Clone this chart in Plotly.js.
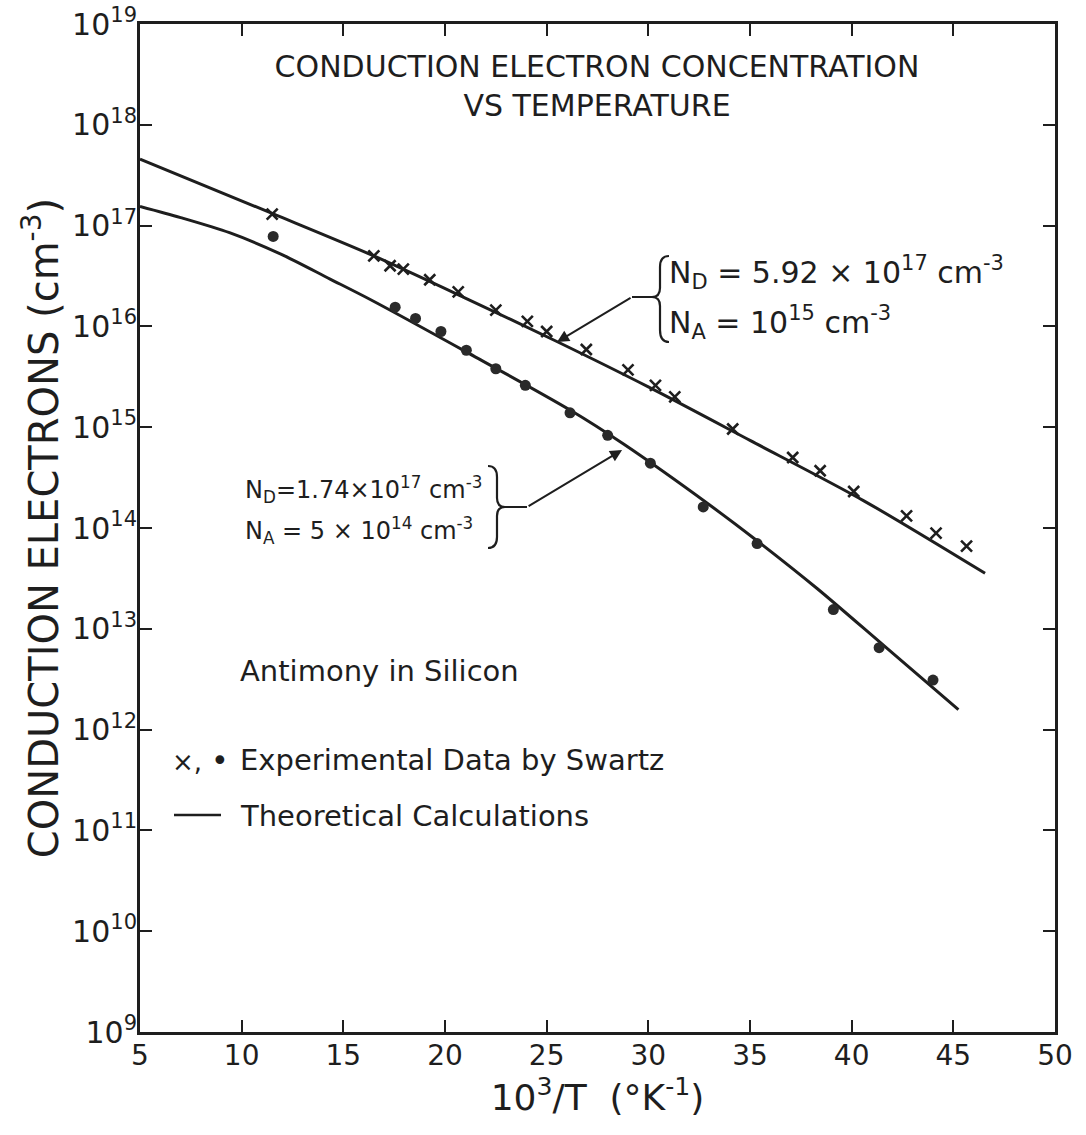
<!DOCTYPE html>
<html>
<head>
<meta charset="utf-8">
<script src="https://cdn.plot.ly/plotly-3.0.1.min.js"></script>
<style>html,body{margin:0;padding:0;background:#fff;}</style>
</head>
<body>
<div id="chart" style="width:1086px;height:1135px;"></div>
<script>
// ---- data ----
// Theoretical curve, N_D = 5.92e17, N_A = 1e15
const theoryUpperX = [5, 11.5, 16.5, 21, 25.5, 30, 35, 40.6, 46.56];
const theoryUpperN = [4.57e17, 1.32e17, 5.0e16, 1.91e16, 7.08e15, 2.51e15, 7.4e14, 1.86e14, 3.55e13];
// Theoretical curve, N_D = 1.74e17, N_A = 5e14
const theoryLowerX = [5, 7, 9.4, 11.9, 14.35, 16.3, 21.2, 26.15, 28.8, 33.0, 35.3, 38.3, 41.6, 45.25];
const theoryLowerN = [1.55e17, 1.20e17, 8.5e16, 5.25e16, 2.95e16, 1.86e16, 5.37e15, 1.48e15, 6.76e14, 1.70e14, 7.6e13, 2.51e13, 6.76e12, 1.58e12];
// Experimental data (crosses)
const crossX = [11.5, 16.5, 17.3, 17.95, 19.25, 20.65, 22.5, 24.05, 25.0, 26.95, 29.0, 30.35, 31.3, 34.15, 37.1, 38.45, 40.1, 42.7, 44.15, 45.65];
const crossN = [1.3e17, 5.0e16, 4.0e16, 3.7e16, 2.9e16, 2.2e16, 1.45e16, 1.12e16, 8.9e15, 5.9e15, 3.7e15, 2.6e15, 2.0e15, 9.6e14, 5.0e14, 3.7e14, 2.3e14, 1.32e14, 8.9e13, 6.6e13];
// Experimental data (dots)
const dotX = [11.55, 17.55, 18.55, 19.8, 21.05, 22.5, 23.95, 26.15, 28.0, 30.1, 32.7, 35.35, 39.1, 41.35, 44.0];
const dotN = [7.8e16, 1.55e16, 1.2e16, 8.9e15, 5.8e15, 3.8e15, 2.6e15, 1.39e15, 8.3e14, 4.4e14, 1.62e14, 7.0e13, 1.55e13, 6.5e12, 3.1e12];
// Axis ticks
const xTicks = [5, 10, 15, 20, 25, 30, 35, 40, 45, 50];
const yTickExps = [9, 10, 11, 12, 13, 14, 15, 16, 17, 18, 19];

// ---- layout helpers ----
const INK = '#1e1e1e';
const FONT = 'DejaVu Sans, Liberation Sans, sans-serif';
const W = 1086, H = 1135;
const M = {l: 140, r: 31, t: 24, b: 103};
const PW = W - M.l - M.r, PH = H - M.t - M.b;
function px(x) { return (x - M.l) / PW; }
function py(y) { return (H - M.b - y) / PH; }
function pathFromPixels(cmds) {
  return cmds.map(c => {
    if (c.length === 3) return c[0] + ' ' + px(c[1]).toFixed(5) + ',' + py(c[2]).toFixed(5);
    return c[0] + ' ' + px(c[1]).toFixed(5) + ',' + py(c[2]).toFixed(5) + ' ' + px(c[3]).toFixed(5) + ',' + py(c[4]).toFixed(5);
  }).join(' ');
}

const traces = [
  {x: theoryUpperX, y: theoryUpperN, mode: 'lines', line: {color: INK, width: 3, shape: 'spline', smoothing: 0.8}, showlegend: false, hoverinfo: 'skip'},
  {x: theoryLowerX, y: theoryLowerN, mode: 'lines', line: {color: INK, width: 3, shape: 'spline', smoothing: 0.8}, showlegend: false, hoverinfo: 'skip'},
  {x: crossX, y: crossN, mode: 'markers', marker: {symbol: 'x-thin-open', size: 11, color: INK, line: {color: INK, width: 2.6}}, showlegend: false},
  {x: dotX, y: dotN, mode: 'markers', marker: {symbol: 'circle', size: 11, color: '#2a2a2a'}, showlegend: false}
];

function ann(text, x, y, size, xanchor) {
  return {text: text, xref: 'paper', yref: 'paper', x: px(x), y: py(y), xanchor: xanchor || 'left', yanchor: 'middle',
          showarrow: false, font: {family: FONT, size: size, color: INK}};
}

const annotations = [
  ann('N<sub>D</sub> = 5.92 × 10<sup>17</sup> cm<sup>-3</sup>', 667, 272, 30),
  ann('N<sub>A</sub> = 10<sup>15</sup> cm<sup>-3</sup>', 667, 323, 30),
  ann('N<sub>D</sub>=1.74×10<sup>17</sup> cm<sup>-3</sup>', 243, 489, 24),
  ann('N<sub>A</sub> = 5 × 10<sup>14</sup> cm<sup>-3</sup>', 243, 530, 24),
  ann('Antimony in Silicon', 238, 671, 29),
  ann('×,', 170, 762, 26),
  ann('•', 209, 760, 30),
  ann('Experimental Data by Swartz', 238, 760, 29),
  ann('Theoretical Calculations', 238, 816, 29),
  // arrows
  {x: 25.51, y: Math.log10(7.0e15), xref: 'x', yref: 'y', text: '', showarrow: true, arrowhead: 2, arrowsize: 1.2, arrowwidth: 2, arrowcolor: INK, ax: 75, ay: -45},
  {x: 28.71, y: Math.log10(5.95e14), xref: 'x', yref: 'y', text: '', showarrow: true, arrowhead: 2, arrowsize: 1.2, arrowwidth: 2, arrowcolor: INK, ax: -95, ay: 57}
];

const shapes = [
  // left brace for upper label
  {type: 'path', xref: 'paper', yref: 'paper', line: {color: INK, width: 2.2},
   path: pathFromPixels([['M', 669, 256], ['Q', 660, 256, 660, 267], ['L', 660, 288], ['Q', 660, 297, 652, 297], ['Q', 660, 297, 660, 306], ['L', 660, 330], ['Q', 660, 342, 669, 342]])},
  {type: 'line', xref: 'paper', yref: 'paper', x0: px(652), y0: py(297), x1: px(632), y1: py(297), line: {color: INK, width: 2}},
  // right brace for lower label
  {type: 'path', xref: 'paper', yref: 'paper', line: {color: INK, width: 2.2},
   path: pathFromPixels([['M', 488, 466], ['Q', 497, 466, 497, 477], ['L', 497, 498], ['Q', 497, 507, 505, 507], ['Q', 497, 507, 497, 516], ['L', 497, 537], ['Q', 497, 548, 488, 548]])},
  {type: 'line', xref: 'paper', yref: 'paper', x0: px(505), y0: py(507), x1: px(527), y1: py(507), line: {color: INK, width: 2}},
  // legend line sample
  {type: 'line', xref: 'paper', yref: 'paper', x0: px(174), y0: py(815), x1: px(221), y1: py(815), line: {color: INK, width: 2.6}}
];

const layout = {
  width: W, height: H,
  margin: M,
  paper_bgcolor: '#fff', plot_bgcolor: '#fff',
  font: {family: FONT, color: INK},
  title: {text: 'CONDUCTION ELECTRON CONCENTRATION<br>VS TEMPERATURE', font: {family: FONT, size: 30, color: INK},
          x: 597 / W, xanchor: 'center', y: 1 - 77 / H, yanchor: 'top'},
  xaxis: {
    type: 'linear', range: [5, 50], tickvals: xTicks, ticktext: xTicks.map(String),
    ticks: 'inside', ticklen: 12, tickwidth: 2, tickcolor: INK,
    showline: true, linewidth: 3, linecolor: INK, mirror: 'ticks',
    showgrid: false, zeroline: false, ticklabelstandoff: -4,
    tickfont: {family: FONT, size: 28, color: INK},
    title: {text: '10<sup>3</sup>/T  (°K<sup>-1</sup>)', font: {family: FONT, size: 36, color: INK}, standoff: 10}
  },
  yaxis: {
    type: 'log', range: [9, 19],
    tickvals: yTickExps.map(e => Math.pow(10, e)),
    ticktext: yTickExps.map(e => '10<sup>' + e + '</sup>'),
    ticks: 'inside', ticklen: 12, tickwidth: 2, tickcolor: INK,
    showline: true, linewidth: 3, linecolor: INK, mirror: 'ticks',
    showgrid: false, zeroline: false, ticklabelstandoff: -6,
    tickfont: {family: FONT, size: 30, color: INK},
    title: {text: 'CONDUCTION ELECTRONS (cm<sup>-3</sup>)', font: {family: FONT, size: 40, color: INK}, standoff: 2}
  },
  showlegend: false,
  annotations: annotations,
  shapes: shapes
};

Plotly.newPlot('chart', traces, layout, {staticPlot: true, displayModeBar: false});
</script>
</body>
</html>
